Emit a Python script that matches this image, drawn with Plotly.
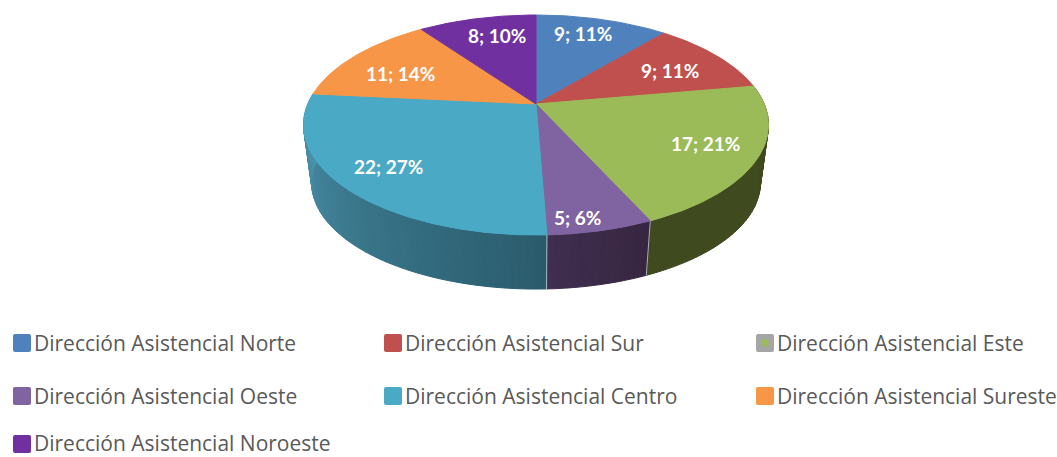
import math
import plotly.graph_objects as go

# ---- data ----
categories = ["Dirección Asistencial Norte", "Dirección Asistencial Sur", "Dirección Asistencial Este",
              "Dirección Asistencial Oeste", "Dirección Asistencial Centro", "Dirección Asistencial Sureste",
              "Dirección Asistencial Noroeste"]
values = [9, 9, 17, 5, 22, 11, 8]

# ---- style ----
top_colors = ["#4f81bd", "#c0504d", "#9bbb59", "#8064a2", "#4aa9c4", "#f79646", "#7030a0"]
wall_from = [None, None, (63, 74, 31), (55, 38, 64), (42, 91, 108), None, None]   # at low angle
wall_to = [None, None, (63, 74, 31), (64, 46, 80), (76, 150, 175), None, None]    # at high angle
label_nudge = [(-1.5, -9), (4, 1), (19, 3), (-1, 30), (-20, 6), (-6, 4), (4, -6)]
label_font = "Lato"
legend_font = "Open Sans"
legend_size = 21
label_size = 19
legend_cols = [13, 384, 756]
legend_rows = [334, 387, 435]
legend_text_shift = [0, 0, -1]

# ---- tilted disc geometry (perspective view, pixels on the axes) ----
CX, CY = 536, 104
BX, AY, P = 228.2, 106, 0.191
DROP, SHRINK = 58.6, 0.965


def project(theta_deg, r=1.0, bottom=False):
    t = math.radians(theta_deg)
    x, z = r * math.sin(t), -r * math.cos(t)
    d = 1 - P * z
    s = SHRINK if bottom else 1.0
    return CX + s * BX * x / d, CY + (DROP if bottom else 0) + s * AY * z / d


def arc(a0, a1, step=0.5, bottom=False):
    n = max(2, int(abs(a1 - a0) / step) + 1)
    return [project(a0 + (a1 - a0) * i / (n - 1), bottom=bottom) for i in range(n)]


total = sum(values)
edges = [0]
for v in values:
    edges.append(edges[-1] + v / total * 360)

fig = go.Figure()


def poly(pts, color, lw=1.0, line_color=None):
    xs, ys = zip(*pts)
    fig.add_trace(go.Scatter(x=list(xs) + [xs[0]], y=list(ys) + [ys[0]], mode="lines", fill="toself",
                             fillcolor=color, line=dict(color=line_color or color, width=lw),
                             hoverinfo="skip", showlegend=False))


# walls, front part only: shaded strips (the rest lies behind the top face)
FRONT_A, FRONT_B = 80, 295
for i in range(len(values)):
    if wall_from[i] is None:
        continue
    a0, a1 = max(edges[i], FRONT_A), min(edges[i + 1], FRONT_B)
    n = max(1, int((a1 - a0) / 1.5))
    for k in range(n):
        s0 = a0 + (a1 - a0) * k / n
        s1 = a0 + (a1 - a0) * (k + 1) / n
        f = (k + 0.5) / n
        c = [round(wall_from[i][j] + (wall_to[i][j] - wall_from[i][j]) * f) for j in range(3)]
        col = f"rgb({c[0]},{c[1]},{c[2]})"
        poly(arc(s0, s1) + arc(s1, s0, bottom=True), col, 1.0)

# seams between wall sections
for a in (edges[3], edges[4]):
    p0, p1 = project(a), project(a, bottom=True)
    fig.add_trace(go.Scatter(x=[p0[0], p1[0]], y=[p0[1], p1[1]], mode="lines",
                             line=dict(color="rgba(205,220,225,0.75)", width=1),
                             hoverinfo="skip", showlegend=False))

# top face
for i in range(len(values)):
    poly([(CX, CY)] + arc(edges[i], edges[i + 1]), top_colors[i], 1.0)

# slice labels
annotations = []
for i, v in enumerate(values):
    mid = (edges[i] + edges[i + 1]) / 2
    px, py = project(mid, r=0.7)
    annotations.append(dict(x=px + label_nudge[i][0], y=py + label_nudge[i][1], xref="x", yref="y",
                            text=f"<b>{v}; {round(v / total * 100)}%</b>", showarrow=False,
                            font=dict(family=label_font, size=label_size, color="white")))

# legend
shapes = []
SW = 18
for i, name in enumerate(categories):
    x0, y0 = legend_cols[i % 3], legend_rows[i // 3]
    rr = 2
    path = (f"M{x0+rr},{y0} L{x0+SW-rr},{y0} Q{x0+SW},{y0} {x0+SW},{y0+rr} L{x0+SW},{y0+SW-rr} "
            f"Q{x0+SW},{y0+SW} {x0+SW-rr},{y0+SW} L{x0+rr},{y0+SW} Q{x0},{y0+SW} {x0},{y0+SW-rr} "
            f"L{x0},{y0+rr} Q{x0},{y0} {x0+rr},{y0} Z")
    swatch = "#a5a5a5" if i == 2 else top_colors[i]
    shapes.append(dict(type="path", path=path, xref="x", yref="y", fillcolor=swatch, line=dict(width=0)))
    if i == 2:
        shapes.append(dict(type="rect", x0=x0 + 5.5, x1=x0 + 12.5, y0=y0 + 5.5, y1=y0 + 12.5, xref="x", yref="y",
                           fillcolor=top_colors[2], line=dict(width=0)))
    annotations.append(dict(x=x0 + SW + 1, y=y0 + SW / 2 + legend_text_shift[i // 3], xref="x", yref="y",
                            text=name, showarrow=False, xanchor="left", yanchor="middle",
                            font=dict(family=legend_font, size=legend_size, color="#595959")))

fig.update_layout(
    width=1057, height=457, margin=dict(l=0, r=0, t=0, b=0),
    paper_bgcolor="white", plot_bgcolor="white", showlegend=False,
    xaxis=dict(range=[0, 1057], visible=False, fixedrange=True),
    yaxis=dict(range=[457, 0], visible=False, fixedrange=True),
    annotations=annotations, shapes=shapes,
)
fig.write_html("out.html", config={"displayModeBar": False},
               post_script="document.body.style.margin='0';document.documentElement.style.overflow='hidden';")
